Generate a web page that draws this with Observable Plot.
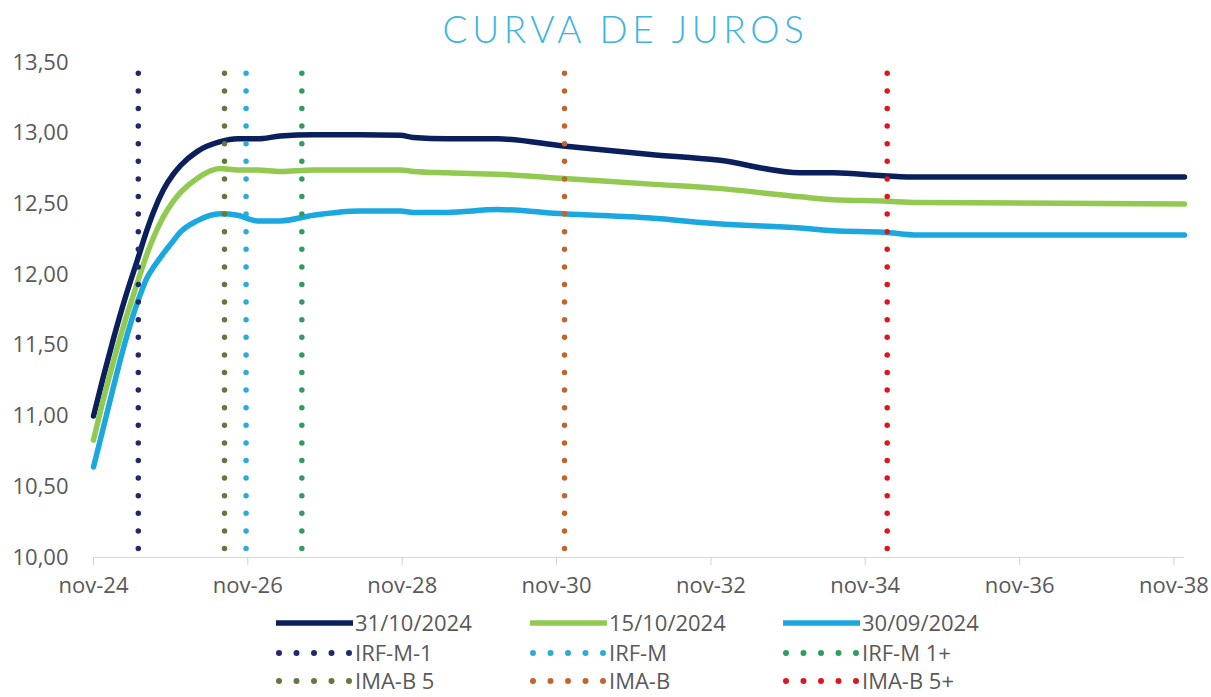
<!DOCTYPE html>
<html><head><meta charset="utf-8">
<script src="https://cdn.jsdelivr.net/npm/d3@7"></script>
<script src="https://cdn.jsdelivr.net/npm/@observablehq/plot@0.6"></script>
<style>
body{margin:0;background:#fff;width:1211px;height:697px;overflow:hidden;position:relative;font-family:"Open Sans",sans-serif;}
#title{position:absolute;left:20px;top:0;width:1211px;height:50px;text-align:center;font-family:"Lato",sans-serif;font-weight:300;font-size:37px;letter-spacing:4.6px;color:#3db5e0;line-height:58px;z-index:2;}
#chart{position:absolute;left:0;top:40px;z-index:1;}
#legend{position:absolute;left:0;top:603px;}
</style></head><body>
<div id="title">CURVA DE JUROS</div>
<div id="chart"></div>
<svg id="legend" width="1211" height="94"></svg>
<script>
const dates = ["2024-11-01","2024-12-18","2025-02-04","2025-04-01","2025-05-27","2025-07-13","2025-08-11","2025-09-28","2025-11-14","2025-12-17","2026-03-06","2026-06-24","2026-09-13","2026-12-16","2027-04-03","2027-09-07","2028-04-16","2028-10-23","2028-12-24","2029-06-02","2030-01-26","2030-12-04","2032-01-20","2032-12-03","2033-12-30","2034-06-04","2035-01-27","2035-07-06","2038-12-21"];
const curve31Oct = [11.00,11.28,11.55,11.84,12.10,12.32,12.44,12.60,12.71,12.77,12.87,12.94,12.96,12.96,12.98,12.99,12.99,12.985,12.97,12.96,12.96,12.91,12.85,12.81,12.72,12.72,12.70,12.69,12.69];
const curve15Oct = [10.83,11.12,11.39,11.68,11.94,12.15,12.26,12.41,12.52,12.58,12.68,12.75,12.74,12.74,12.73,12.74,12.74,12.74,12.73,12.72,12.71,12.68,12.64,12.61,12.55,12.53,12.52,12.51,12.50];
const curve30Sep = [10.64,10.92,11.21,11.53,11.80,11.98,12.05,12.15,12.24,12.30,12.38,12.43,12.42,12.38,12.38,12.42,12.45,12.45,12.44,12.44,12.46,12.43,12.40,12.36,12.33,12.31,12.30,12.28,12.28];
const seriesNames = ["31/10/2024","15/10/2024","30/09/2024"];
const seriesColors = ["#0a1f5c","#92c950","#1ba7df"];
const indexNames = ["IRF-M-1","IRF-M","IRF-M 1+","IMA-B 5","IMA-B","IMA-B 5+"];
const indexDates = ["2025-06-01","2026-10-24","2027-07-15","2026-07-14","2030-12-09","2035-02-13"];
const indexColors = ["#1f2a6b","#2eaad6","#2e9e5e","#5f7a3c","#c0652f","#e0141e"];
const yTicks = [10,10.5,11,11.5,12,12.5,13,13.5];
const xTickDates = ["2024-11-01","2026-11-01","2028-11-01","2030-11-01","2032-11-01","2034-11-01","2036-11-01","2038-11-01"];
const monthAbbr = "nov";

const parse = d3.utcParse("%Y-%m-%d");
const seriesValues = [curve31Oct, curve15Oct, curve30Sep];
const lineData = seriesValues.flatMap((vals, i) => vals.map((v, j) => ({date: parse(dates[j]), value: v, series: seriesNames[i]})));
const indexData = indexNames.map((n, i) => ({name: n, date: parse(indexDates[i]), color: indexColors[i]}));

const plot = Plot.plot({
  width: 1211, height: 565,
  marginLeft: 93, marginRight: 27, marginTop: 22, marginBottom: 48,
  style: {fontFamily: "Open Sans", fontSize: "22px", color: "#595959", background: "none"},
  x: {type: "utc", domain: [parse(dates[0]), parse(dates[dates.length-1])]},
  y: {domain: [10, 13.5]},
  color: {domain: seriesNames, range: seriesColors},
  marks: [
    Plot.ruleY([10], {stroke: "#d9d9d9", strokeWidth: 1.2}),
    Plot.axisX({ticks: xTickDates.map(parse), tickFormat: d => monthAbbr + "-" + d3.utcFormat("%y")(d), tickSize: 8, tickPadding: 12, stroke: "#d0d0d0", fill: "#595959", label: null}),
    Plot.axisY({ticks: yTicks, tickFormat: d => d.toFixed(2).replace(".", ","), tickSize: 0, tickPadding: 25, fill: "#595959", label: null}),
    Plot.line(lineData, {x: "date", y: "value", z: "series", stroke: "series", strokeWidth: 5.5, curve: "monotone-x"}),
    Plot.ruleX(indexData, {x: "date", y1: 10.06, y2: 13.5, stroke: "color", strokeWidth: 5.5, strokeDasharray: "0 17.6", strokeLinecap: "round"})
  ]
});
document.getElementById("chart").appendChild(plot);

// legend
const legendItems = seriesNames.map((n, i) => ({name: n, color: seriesColors[i], dotted: false}))
  .concat(indexNames.map((n, i) => ({name: n, color: indexColors[i], dotted: true})));
const svg = d3.select("#legend");
const colX = [276, 530, 783];
const rowY = [20, 50, 78];
legendItems.forEach((it, k) => {
  const g = svg.append("g").attr("transform", `translate(${colX[k % 3]},${rowY[Math.floor(k / 3)]})`);
  if (it.dotted) {
    g.append("line").attr("x1", 3).attr("x2", 74).attr("stroke", it.color).attr("stroke-width", 6)
      .attr("stroke-dasharray", "0 17.5").attr("stroke-linecap", "round");
  } else {
    g.append("line").attr("x1", 0).attr("x2", 77).attr("stroke", it.color).attr("stroke-width", 5.5);
  }
  g.append("text").attr("x", 79).attr("y", 0).attr("dy", "0.36em")
    .attr("font-family", "Open Sans").attr("font-size", 22).attr("fill", "#595959").text(it.name);
});
</script>
</body></html>
